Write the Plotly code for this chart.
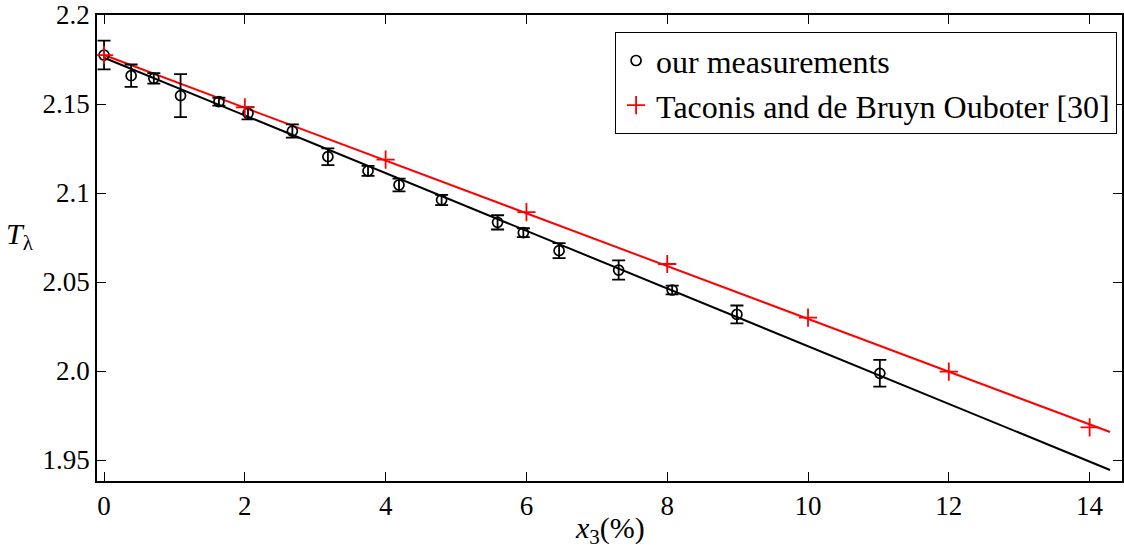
import plotly.graph_objects as go

# measured data (x3 in %, T_lambda in K)
meas_x = [0.0, 0.385, 0.707, 1.087, 1.632, 2.045, 2.675, 3.18, 3.75, 4.19, 4.795,
          5.59, 5.956, 6.464, 7.31, 8.07, 8.99, 11.02]
meas_y = [2.1775, 2.1659, 2.1644, 2.1547, 2.1513, 2.1448, 2.1348, 2.1204, 2.1124, 2.1045, 2.0961,
          2.0835, 2.0777, 2.0676, 2.0567, 2.0455, 2.0318, 1.9987]
meas_err = [0.0081, 0.0063, 0.003, 0.0121, 0.0022, 0.0034, 0.0037, 0.0047, 0.0028, 0.0036, 0.0029,
            0.004, 0.0025, 0.0042, 0.0054, 0.0025, 0.005, 0.0075]

# Taconis and de Bruyn Ouboter
ref_x = [0, 2, 4, 6, 8, 10, 12, 14]
ref_y = [2.1775, 2.1481, 2.1188, 2.0892, 2.0601, 2.0300, 1.9996, 1.9683]

# linear fit lines (end points)
fit_x = [0.0, 14.29]
meas_fit_y = [2.1760, 1.9444]
ref_fit_y = [2.1775, 1.9657]

x_ticks = [0, 2, 4, 6, 8, 10, 12, 14]
y_ticks = [1.95, 2.0, 2.05, 2.1, 2.15, 2.2]
y_ticktext = ["1.95", "2.0", "2.05", "2.1", "2.15", "2.2"]

FONT = "Liberation Serif"

fig = go.Figure()

fig.add_trace(go.Scatter(x=fit_x, y=meas_fit_y, mode="lines",
                         line=dict(color="black", width=2), showlegend=False, hoverinfo="skip"))
fig.add_trace(go.Scatter(x=fit_x, y=ref_fit_y, mode="lines",
                         line=dict(color="#ff0000", width=2), showlegend=False, hoverinfo="skip"))

fig.add_trace(go.Scatter(
    x=meas_x, y=meas_y, mode="markers", name="our measurements",
    marker=dict(symbol="circle-open", size=10, color="black", line=dict(width=1.7, color="black")),
    error_y=dict(type="data", array=meas_err, visible=True, color="black", thickness=1.8, width=6.5),
))
fig.add_trace(go.Scatter(
    x=ref_x, y=ref_y, mode="markers", name="Taconis and de Bruyn Ouboter [30]",
    marker=dict(symbol="cross-thin", size=13, color="#ff0000", line=dict(width=1.8, color="#ff0000")),
))

axis_common = dict(showline=True, linecolor="black", linewidth=1.5, mirror="ticks",
                   ticks="inside", ticklen=9, tickwidth=1, tickcolor="black",
                   showgrid=False, zeroline=False, automargin=False,
                   tickfont=dict(family=FONT, size=27, color="black"))

fig.update_xaxes(range=[-0.1, 14.46], tickvals=x_ticks, **axis_common)
fig.update_yaxes(range=[1.9382, 2.2], tickvals=y_ticks, ticktext=y_ticktext, **axis_common)

fig.add_annotation(text="<i>x</i><sub>3</sub>(%)", xref="paper", yref="paper",
                   x=0.5, y=-0.105, xanchor="center", yanchor="middle", showarrow=False,
                   font=dict(family=FONT, size=30, color="black"))
fig.add_annotation(text="<i>T</i><sub>λ</sub>", xref="paper", yref="paper",
                   x=-0.075, y=0.525, xanchor="center", yanchor="middle", showarrow=False,
                   font=dict(family=FONT, size=30, color="black"))

fig.update_layout(
    width=1124, height=550,
    margin=dict(l=97, r=2, t=15, b=69, autoexpand=False),
    plot_bgcolor="white", paper_bgcolor="white",
    font=dict(family=FONT, size=27, color="black"),
    legend=dict(x=0.995, y=0.9635, xanchor="right", yanchor="top",
                bgcolor="white", bordercolor="black", borderwidth=1.2,
                font=dict(family=FONT, size=32, color="black"),
                itemwidth=30, tracegroupgap=0),
)

fig.write_html("out.html", config={"displayModeBar": False},
               post_script="document.body.style.margin='0';document.body.style.overflow='hidden';")
